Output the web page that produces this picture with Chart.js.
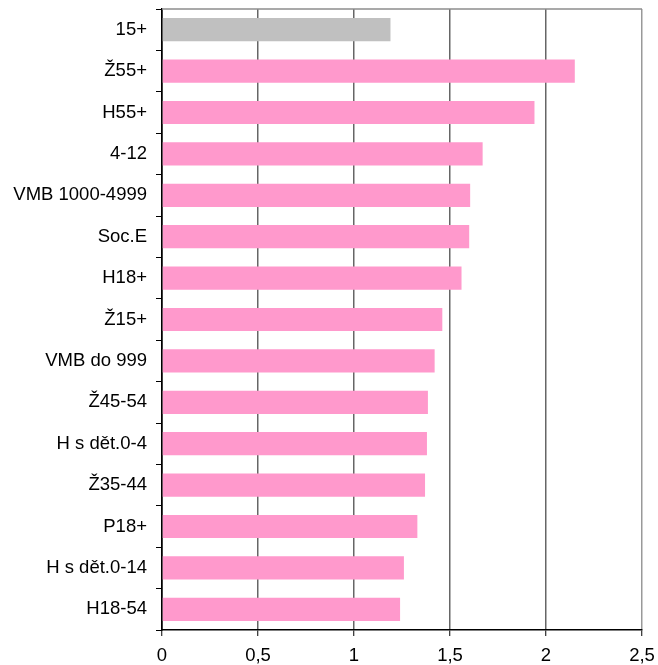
<!DOCTYPE html>
<html>
<head>
<meta charset="utf-8">
<script src="https://cdn.jsdelivr.net/npm/chart.js@4"></script>
<style>
html,body{margin:0;padding:0;background:#fff;}
#c{display:block;}
</style>
</head>
<body>
<canvas id="c" width="658" height="665"></canvas>
<script>
const categories = ['15+','Ž55+','H55+','4-12','VMB 1000-4999','Soc.E','H18+','Ž15+','VMB do 999','Ž45-54','H s dět.0-4','Ž35-44','P18+','H s dět.0-14','H18-54'];
const values = [1.19,2.15,1.94,1.67,1.605,1.60,1.56,1.46,1.42,1.385,1.38,1.37,1.33,1.26,1.24];
const xTicks = [0,0.5,1,1.5,2,2.5];

const GRAY = '#C0C0C0';
const PINK = '#FF99CC';

const topBorder = {
  id:'topBorder',
  afterDraw(chart){
    const {ctx, chartArea:a} = chart;
    ctx.save();
    ctx.strokeStyle = '#8c8c8c';
    ctx.lineWidth = 1.5;
    ctx.beginPath();
    ctx.moveTo(a.left, a.top);
    ctx.lineTo(a.right, a.top);
    ctx.stroke();
    ctx.restore();
  }
};

new Chart(document.getElementById('c'), {
  type:'bar',
  data:{
    labels:categories,
    datasets:[{
      data:values,
      backgroundColor:ctx => ctx.dataIndex === 0 ? GRAY : PINK,
      borderWidth:0,
      barPercentage:0.56,
      categoryPercentage:1
    }]
  },
  options:{
    indexAxis:'y',
    responsive:false,
    animation:false,
    layout:{padding:{left:0,right:16,top:9,bottom:0}},
    plugins:{legend:{display:false},tooltip:{enabled:false}},
    scales:{
      x:{
        type:'linear',
        min:xTicks[0], max:xTicks[xTicks.length-1],
        afterBuildTicks: s => { s.ticks = xTicks.map(v => ({value:v})); },
        afterFit: s => { s.height = 35; s.paddingLeft = 0; s.paddingRight = 0; },
        ticks:{
          color:'#000',
          padding:9,
          font:{family:'Liberation Sans', size:18.5},
          callback: v => String(v).replace('.', ',')
        },
        grid:{
          color: c => c.tick && c.tick.value === 0 ? '#000' : (c.tick && c.tick.value === 2.5 ? '#999' : '#666'),
          lineWidth:1.5,
          tickLength:6,
          tickColor:'#000',
          tickWidth:1
        },
        border:{color:'#000', width:1.5}
      },
      y:{
        afterFit: s => { s.width = 162; s.paddingTop = 0; s.paddingBottom = 0; },
        ticks:{
          color:'#000',
          padding:9,
          font:{family:'Liberation Sans', size:18.5}
        },
        grid:{
          offset:true,
          drawOnChartArea:false,
          tickLength:6,
          tickColor:'#000',
          tickWidth:1
        },
        border:{color:'#000', width:1.5}
      }
    }
  },
  plugins:[topBorder]
});
</script>
</body>
</html>
